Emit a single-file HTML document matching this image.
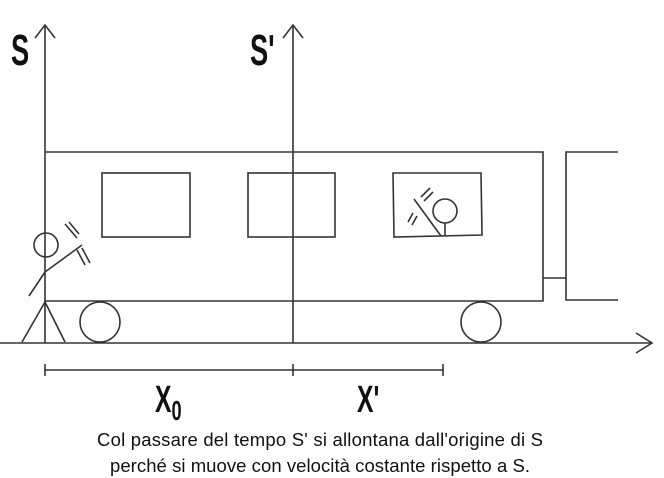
<!DOCTYPE html>
<html><head><meta charset="utf-8"><style>
body{margin:0;background:#fff;width:664px;height:478px;overflow:hidden}
svg{display:block}
.lbl{font-family:"Liberation Sans Narrow","Liberation Sans",sans-serif;font-weight:bold;fill:#111}
.cap{font-family:"Liberation Sans",sans-serif;font-size:18.5px;fill:#111}
</style></head><body>
<svg width="664" height="478" viewBox="0 0 664 478" xmlns="http://www.w3.org/2000/svg">
<g stroke="#333" stroke-width="1.6" fill="none">
<line x1="45" y1="26" x2="45" y2="343"/>
<polyline points="35,38 45,25 55,38"/>
<line x1="293" y1="26" x2="293" y2="343"/>
<polyline points="283,38 293,25 303,38"/>
<line x1="0" y1="343" x2="652" y2="343"/>
<polyline points="636,333 652,343 636,353"/>
<polyline points="45,152 543,152 543,301 45,301"/>
<line x1="543" y1="278" x2="566" y2="278"/>
<polyline points="618,152 566,152 566,300 618,300"/>
<rect x="102" y="173" width="88" height="64"/>
<rect x="248" y="173" width="87" height="64"/>
<polygon points="393,173 481,173 482,235 394,237"/>
<circle cx="100" cy="322" r="20"/>
<circle cx="481" cy="322" r="20"/>
<circle cx="46" cy="245" r="12"/>
<line x1="45" y1="272" x2="82" y2="245"/>
<line x1="45" y1="272" x2="29" y2="296"/>
<line x1="45" y1="302" x2="22" y2="342"/>
<line x1="45" y1="302" x2="65" y2="342"/>
<line x1="65" y1="224" x2="77" y2="238"/>
<line x1="69" y1="222" x2="79" y2="234"/>
<line x1="77" y1="250" x2="85" y2="265"/>
<line x1="82" y1="248" x2="90" y2="263"/>
<circle cx="445" cy="211" r="12"/>
<line x1="445" y1="223" x2="445" y2="236"/>
<line x1="414" y1="199" x2="441" y2="236"/>
<line x1="408" y1="222" x2="413" y2="213"/>
<line x1="412" y1="225" x2="417" y2="216"/>
<line x1="421" y1="197" x2="430" y2="188"/>
<line x1="424" y1="201" x2="433" y2="192"/>
<line x1="45" y1="370" x2="443" y2="370"/>
<line x1="45" y1="364" x2="45" y2="376"/>
<line x1="293" y1="364" x2="293" y2="376"/>
<line x1="443" y1="364" x2="443" y2="376"/>
</g>
<text class="lbl" x="11" y="65" font-size="44" transform="translate(11 0) scale(0.62 1) translate(-11 0)">S</text>
<text class="lbl" x="250" y="65" font-size="44" transform="translate(250 0) scale(0.62 1) translate(-250 0)">S'</text>
<text class="lbl" x="155" y="412" font-size="38" transform="translate(155 0) scale(0.65 1) translate(-155 0)">X<tspan font-size="28" dy="8">0</tspan></text>
<text class="lbl" x="357" y="412" font-size="38" transform="translate(357 0) scale(0.65 1) translate(-357 0)">X'</text>
<text class="cap" x="320" y="446" text-anchor="middle" textLength="446">Col passare del tempo S' si allontana dall'origine di S</text>
<text class="cap" x="320" y="472" text-anchor="middle" textLength="420">perché si muove con velocità costante rispetto a S.</text>
</svg>
</body></html>
